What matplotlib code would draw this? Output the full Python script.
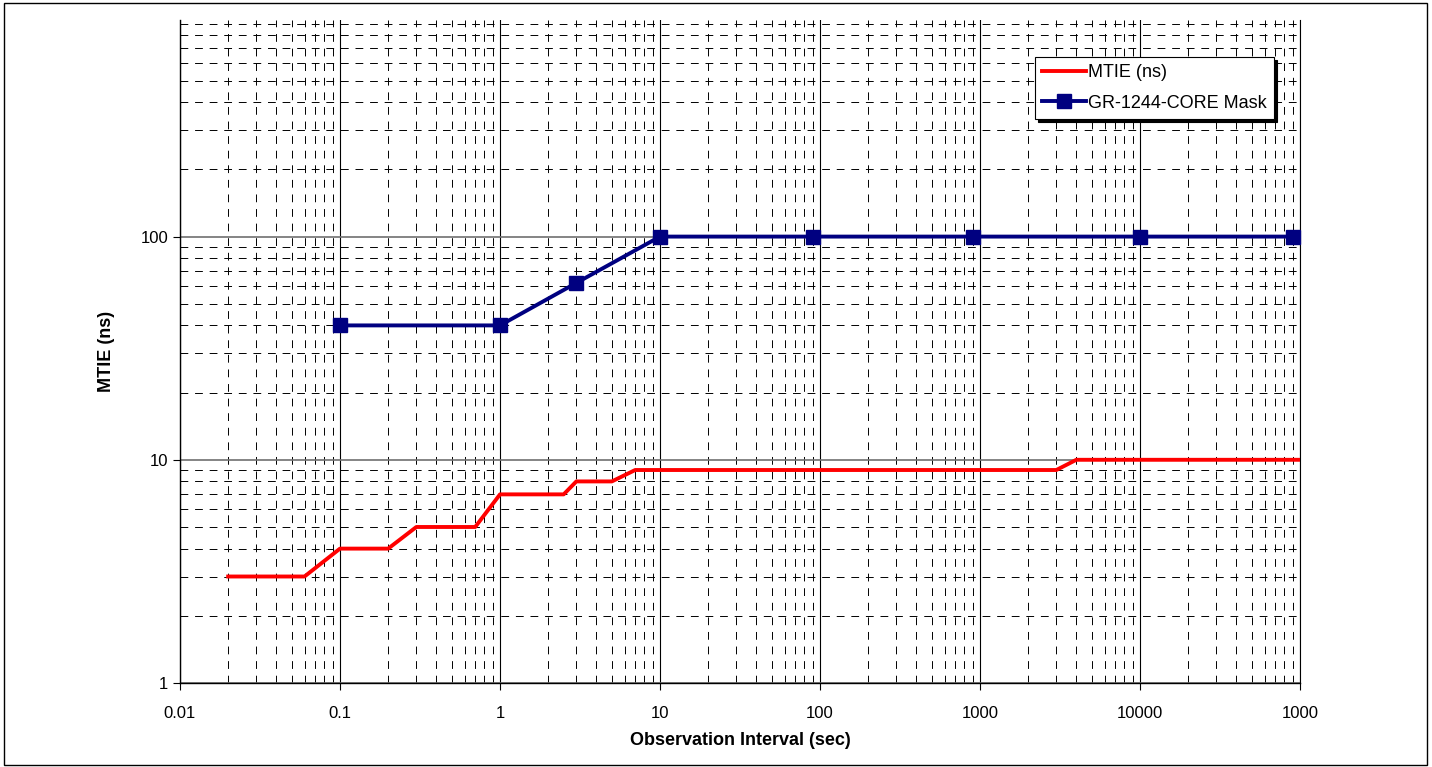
import matplotlib
matplotlib.use("Agg")
import matplotlib.pyplot as plt
from matplotlib.patches import Rectangle
from matplotlib.ticker import FixedLocator, LogLocator, NullFormatter

plt.rcParams['font.family'] = ['Liberation Sans', 'DejaVu Sans']

# MTIE measurement (step-like)
mtie_tau = [0.02, 0.06, 0.1, 0.2, 0.3, 0.7, 1, 2.5, 3, 5, 7, 3000, 4000, 100000]
mtie_ns = [3, 3, 4, 4, 5, 5, 7, 7, 8, 8, 9, 9, 10, 10]

# GR-1244-CORE mask
mask_tau = [0.1, 1, 3, 10, 90, 900, 10000, 90000]
mask_ns = [40, 40, 62, 100, 100, 100, 100, 100]

x_ticks = [0.01, 0.1, 1, 10, 100, 1000, 10000, 100000]
x_tick_labels = ["0.01", "0.1", "1", "10", "100", "1000", "10000", "1000"]
y_ticks = [1, 10, 100]
y_tick_labels = ["1", "10", "100"]

W, H = 1432, 767
fig = plt.figure(figsize=(W / 100, H / 100), dpi=100)
ax = fig.add_axes([180 / W, 1 - 683 / H, 1120 / W, 663 / H])

ax.set_xscale('log')
ax.set_yscale('log')
ax.set_xlim(0.01, 100000)
ax.set_ylim(1, 934)

ax.xaxis.set_major_locator(FixedLocator(x_ticks))
ax.set_xticklabels(x_tick_labels)
ax.yaxis.set_major_locator(FixedLocator(y_ticks))
ax.set_yticklabels(y_tick_labels)
ax.xaxis.set_minor_locator(LogLocator(base=10, subs=range(2, 10), numticks=100))
ax.yaxis.set_minor_locator(LogLocator(base=10, subs=range(2, 10), numticks=100))
ax.xaxis.set_minor_formatter(NullFormatter())
ax.yaxis.set_minor_formatter(NullFormatter())

ax.grid(which='major', axis='x', color='black', linewidth=0.8, linestyle='-')
ax.grid(which='major', axis='y', color='#707070', linewidth=1.2, linestyle='-')
ax.grid(which='minor', axis='both', color='black', linewidth=0.7,
        linestyle=(0, (8, 7)))
ax.set_axisbelow(True)

ax.tick_params(which='major', direction='out', length=5, width=0.8,
               labelsize=12, colors='black')
ax.tick_params(which='minor', length=0)
ax.tick_params(axis='x', pad=11.5)

ax.spines['top'].set_visible(False)
ax.spines['right'].set_linewidth(0.8)
ax.spines['left'].set_linewidth(1.0)
ax.spines['bottom'].set_linewidth(1.0)

ax.plot(mtie_tau, mtie_ns, color='#ff0000', linewidth=2.8,
        label='MTIE (ns)', zorder=3, solid_joinstyle='round')
ax.plot(mask_tau, mask_ns, color='#000080', linewidth=2.8, marker='s',
        markersize=10, label='GR-1244-CORE Mask', zorder=4, clip_on=False)

ax.set_xlabel('Observation Interval (sec)', fontsize=13, fontweight='bold',
              labelpad=8)
ax.set_ylabel('MTIE (ns)', fontsize=13, fontweight='bold', labelpad=18.5)

leg = ax.legend(loc='upper left', bbox_to_anchor=(1035 / W, 1 - 57 / H),
                bbox_transform=fig.transFigure, borderaxespad=0,
                fontsize=13, frameon=True, fancybox=False, numpoints=1,
                handlelength=2.4, handletextpad=0.15, borderpad=0.4,
                labelspacing=0.75,
                shadow={'color': 'black', 'alpha': 1.0})
leg.get_frame().set_edgecolor('black')
leg.get_frame().set_linewidth(0.8)
leg.get_frame().set_alpha(1.0)
leg.set_zorder(10)

# outer figure border
fig.patches.append(Rectangle((4 / W, 2 / H), 1423 / W, 762 / H,
                             transform=fig.transFigure, fill=False,
                             edgecolor='black', linewidth=1.0))

fig.savefig('out.png', dpi=100)
